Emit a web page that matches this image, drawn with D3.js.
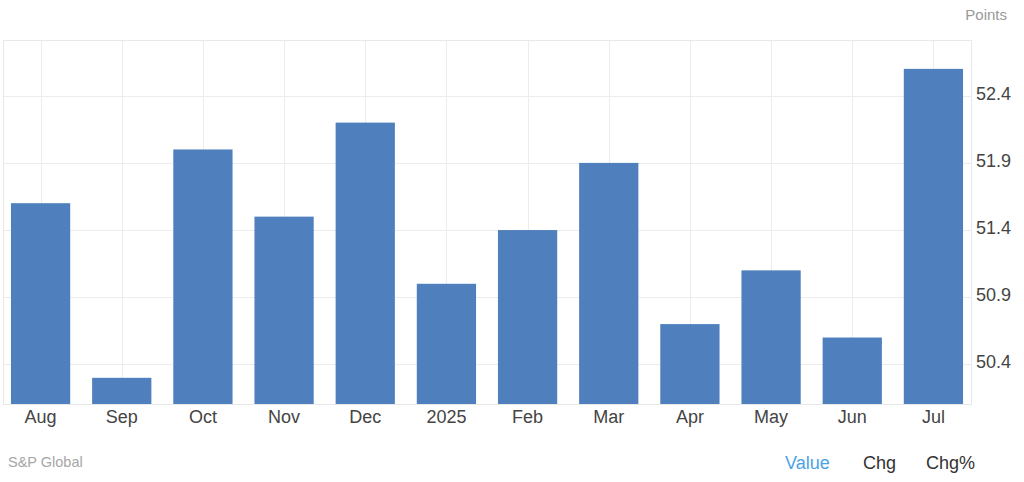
<!DOCTYPE html>
<html>
<head>
<meta charset="utf-8">
<script src="https://cdn.jsdelivr.net/npm/d3@7"></script>
<style>
  html, body { margin: 0; padding: 0; background: #fff; }
  svg { display: block; font-family: "Liberation Sans", Arial, sans-serif; }
</style>
</head>
<body>
<svg id="chart" width="1024" height="482"></svg>
<script>
const categories = ["Aug", "Sep", "Oct", "Nov", "Dec", "2025", "Feb", "Mar", "Apr", "May", "Jun", "Jul"];
const values = [51.6, 50.3, 52.0, 51.5, 52.2, 51.0, 51.4, 51.9, 50.7, 51.1, 50.6, 52.6];
const yTicks = [50.4, 50.9, 51.4, 51.9, 52.4];
const yDomain = [50.105, 52.815];
const unitLabel = "Points";
const sourceLabel = "S&P Global";
const toggles = ["Value", "Chg", "Chg%"];

const svg = d3.select("#chart");
const plot = { left: 3, right: 971, top: 40, bottom: 404 };

const x = d3.scaleBand().domain(categories).range([0, 974]).paddingInner(0.27).paddingOuter(0.135);
const y = d3.scaleLinear().domain(yDomain).range([plot.bottom, plot.top]);

// grid
const grid = svg.append("g");
grid.selectAll("line.h").data(yTicks).join("line")
  .attr("x1", plot.left).attr("x2", plot.right)
  .attr("y1", d => Math.round(y(d)) + 0.5).attr("y2", d => Math.round(y(d)) + 0.5)
  .attr("stroke", "#ececec").attr("stroke-width", 1);
grid.selectAll("line.v").data(categories).join("line")
  .attr("x1", d => Math.round(x(d) + x.bandwidth() / 2) + 0.5)
  .attr("x2", d => Math.round(x(d) + x.bandwidth() / 2) + 0.5)
  .attr("y1", plot.top).attr("y2", plot.bottom)
  .attr("stroke", "#ececec").attr("stroke-width", 1);
// frame
svg.append("rect")
  .attr("x", plot.left + 0.5).attr("y", plot.top + 0.5)
  .attr("width", plot.right - plot.left).attr("height", plot.bottom - plot.top)
  .attr("fill", "none").attr("stroke", "#e8e8e8");

// bars
svg.append("g").selectAll("rect").data(categories).join("rect")
  .attr("x", d => x(d))
  .attr("width", x.bandwidth())
  .attr("y", (d, i) => y(values[i]))
  .attr("height", (d, i) => plot.bottom - y(values[i]))
  .attr("fill", "#4f80bd");

// y axis (right)
const yAxis = d3.axisRight(y).tickValues(yTicks).tickSize(0).tickPadding(0).tickFormat(d3.format(".1f"));
const yg = svg.append("g").attr("transform", `translate(976,-3)`).call(yAxis);
yg.select(".domain").remove();
yg.selectAll("text").attr("fill", "#444").style("font-size", "18px").attr("dy", "0.35em");

// x axis
const xAxis = d3.axisBottom(x).tickSize(0).tickPadding(0);
const xg = svg.append("g").attr("transform", `translate(0,${plot.bottom})`).call(xAxis);
xg.select(".domain").remove();
xg.selectAll("text").attr("fill", "#444").style("font-size", "18px").attr("y", 19).attr("dy", 0);

// unit label
svg.append("text").attr("x", 1007).attr("y", 20).attr("text-anchor", "end")
  .attr("fill", "#999").style("font-size", "15px").text(unitLabel);

// source
svg.append("text").attr("x", 8).attr("y", 467)
  .attr("fill", "#a6a6a6").style("font-size", "14.5px").text(sourceLabel);

// toggles
const toggleX = [785, 863, 926];
svg.append("g").selectAll("text").data(toggles).join("text")
  .attr("x", (d, i) => toggleX[i]).attr("y", 469)
  .attr("fill", (d, i) => i === 0 ? "#4aa3e8" : "#333")
  .style("font-size", "18px").text(d => d);
</script>
</body>
</html>
